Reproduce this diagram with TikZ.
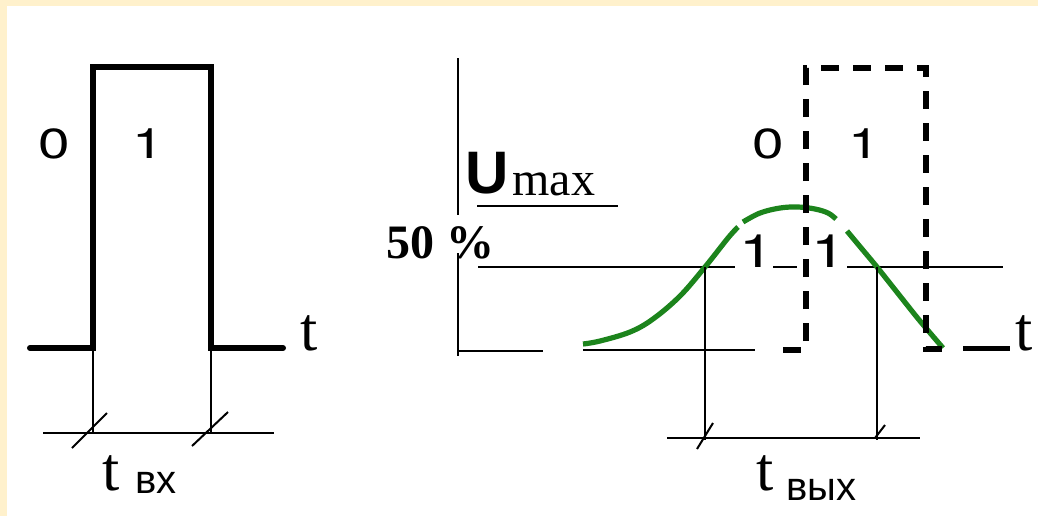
\documentclass[tikz,border=0pt]{standalone}
\usepackage{graphicx}
\usepackage{fontspec}
\setmainfont{Liberation Serif}
\newfontfamily\arialf{Liberation Sans}
\newfontfamily\herosf{TeX Gyre Heros}
\newcommand{\widedigit}[1]{\scalebox{1.35}[1]{#1}}
\definecolor{cream}{RGB}{255,241,204}
\definecolor{curvegreen}{RGB}{28,132,28}
\begin{document}
\begin{tikzpicture}[x=0.5pt,y=-0.5pt,
  thickline/.style={line width=3pt, line cap=round, line join=miter},
  thinline/.style={line width=1pt},
  greenline/.style={curvegreen, line width=2.6pt},
  dashpulse/.style={line width=3pt, dash pattern=on 9pt off 7pt},
  sansdigit/.style={font=\herosf\fontsize{21}{21}\selectfont, inner sep=0pt, anchor=base},
  lowdigit/.style={font=\herosf\fontsize{23}{23}\selectfont, inner sep=0pt, anchor=base},
  tlabel/.style={font=\fontsize{31}{31}\selectfont, inner sep=0pt, anchor=base west},
  sublabel/.style={font=\arialf\fontsize{20}{20}\selectfont, inner sep=0pt, anchor=base west}]
\fill[cream] (0,0) rectangle (1038,516);
\fill[white] (7,6) rectangle (1038,516);
\useasboundingbox (0,0) rectangle (1038,516);

% ---------- left diagram ----------
\coordinate (la) at (30,348);
\coordinate (lb) at (93,348);
\coordinate (lc) at (93,67);
\coordinate (ld) at (211,67);
\coordinate (le) at (211,348);
\coordinate (lf) at (283,348);
\draw[thickline] (la) -- (lb) -- (lc) -- (ld) -- (le) -- (lf);

\coordinate (lbd) at (93,433);
\coordinate (led) at (211,433);
\draw[thinline] (lb) -- (lbd);
\draw[thinline] (le) -- (led);
\coordinate (ldl) at (43,433);
\coordinate (ldr) at (274,433);
\draw[thinline] (ldl) -- (ldr);
\coordinate (lt1a) at (72,448); \coordinate (lt1b) at (107,413);
\coordinate (lt2a) at (192,446); \coordinate (lt2b) at (228,412);
\draw[thinline] (lt1a) -- (lt1b);
\draw[thinline] (lt2a) -- (lt2b);

\node[sansdigit] (lzero) at (54,158) {\widedigit{0}};
\node[sansdigit] (lone) at (148,158) {\widedigit{1}};
\node[tlabel] (ltaxis) at (300,350) {t};
\node[tlabel] (ltin) at (102,490) {t};
\node[sublabel] (lsubin) at (135,493) {вх};

% ---------- right diagram ----------
\coordinate (axtop) at (458,58);
\coordinate (axgap1) at (458,215);
\coordinate (axgap2) at (458,253);
\coordinate (axbot) at (458,356);
\draw[thinline] (axtop) -- (axgap1);
\draw[thinline] (axgap2) -- (axbot);

\coordinate (b1) at (458,351);
\coordinate (b2) at (543,351);
\coordinate (b3) at (583,350);
\coordinate (b4) at (755,350);
\draw[thinline] (b1) -- (b2);
\draw[thinline] (b3) -- (b4);

% 50% line
\coordinate (h1) at (478,267);
\coordinate (h2) at (735,267);
\coordinate (h3) at (773,267);
\coordinate (h4) at (797,267);
\coordinate (h5) at (847,267);
\coordinate (h6) at (1003,267);
\draw[thinline] (h1) -- (h2);
\draw[thinline] (h3) -- (h4);
\draw[thinline] (h5) -- (h6);

% Umax label
\node[font=\arialf\bfseries\fontsize{30}{30}\selectfont, inner sep=0pt, anchor=base west] (uu) at (465,193) {U};
\node[font=\fontsize{24}{24}\selectfont, inner sep=0pt, anchor=base west] (umax) at (512,195) {max};
\coordinate (ul1) at (477,206);
\coordinate (ul2) at (618,206);
\draw[thinline] (ul1) -- (ul2);
\node[font=\bfseries\fontsize{24}{24}\selectfont, inner sep=0pt, anchor=base west] (fifty) at (386,258) {50 \%};

% green curve
\draw[greenline] plot[smooth, tension=0.6] coordinates {(583,344) (600,341) (630,332) (653,319) (680,296) (705,267) (728,238) (738,227)};
\draw[greenline] plot[smooth, tension=0.6] coordinates {(743,222) (760,213) (780,208) (798,207) (815,209) (828,213) (836,219)};
\draw[greenline] plot[smooth, tension=0.5] coordinates {(847,231) (862,249) (877,267) (900,296) (920,321) (943,348)};

% dashed pulse
\coordinate (p1) at (783,350);
\coordinate (p2) at (806,350);
\coordinate (p3) at (806,68);
\coordinate (p4) at (926,68);
\coordinate (p5) at (926,349);
\coordinate (p6) at (943,349);
\draw[dashpulse] (p1) -- (p2) -- (p3) -- (p4) -- (p5) -- (p6);
\coordinate (q1) at (963,348);
\coordinate (q2) at (1010,348);
\draw[line width=2.5pt] (q1) -- (q2);

\node[sansdigit] (rzero) at (768,158) {\widedigit{0}};
\node[sansdigit] (rone) at (864,158) {\widedigit{1}};
\node[lowdigit] (lowone) at (757,267) {\widedigit{1}};
\node[lowdigit] (lowtwo) at (829,267) {\widedigit{1}};
\node[tlabel] (rtaxis) at (1015,350) {t};

% output duration dimension
\coordinate (v1a) at (705,267); \coordinate (v1b) at (705,440);
\coordinate (v2a) at (877,267); \coordinate (v2b) at (877,440);
\draw[thinline] (v1a) -- (v1b);
\draw[thinline] (v2a) -- (v2b);
\coordinate (dl) at (667,438);
\coordinate (dr) at (920,438);
\draw[thinline] (dl) -- (dr);
\coordinate (rt1a) at (697,449); \coordinate (rt1b) at (713,423);
\coordinate (rt2a) at (875,438); \coordinate (rt2b) at (885,425);
\draw[thinline] (rt1a) -- (rt1b);
\draw[thinline] (rt2a) -- (rt2b);

\node[tlabel] (rtout) at (756,490) {t};
\node[sublabel] (rsubout) at (786,500) {вых};
\end{tikzpicture}
\end{document}
